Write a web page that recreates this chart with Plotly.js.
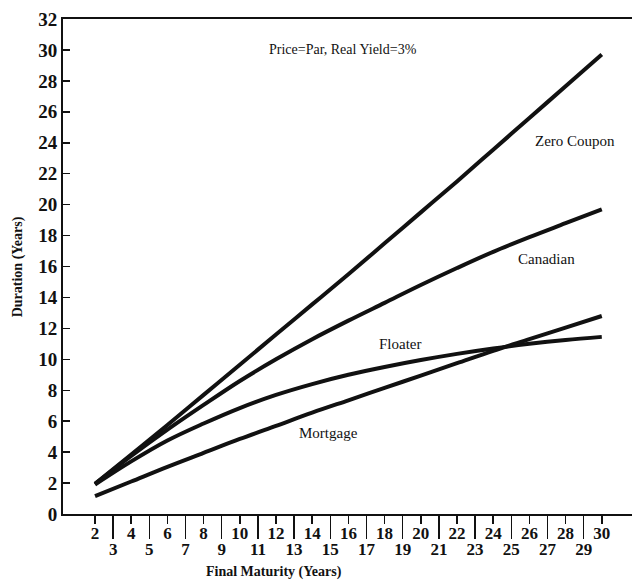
<!DOCTYPE html>
<html>
<head>
<meta charset="utf-8">
<script src="https://cdn.plot.ly/plotly-3.0.1.min.js"></script>
<style>html,body{margin:0;padding:0;background:#fff;}#chart{width:634px;height:586px;}</style>
</head>
<body>
<div id="chart"></div>
<script>
// Final maturity (years)
const maturity = [2, 4, 6, 8, 10, 12, 14, 16, 18, 20, 22, 24, 26, 28, 30];
// Duration (years) by bond type
const zeroCoupon = [1.95, 3.85, 5.75, 7.7, 9.65, 11.6, 13.55, 15.5, 17.5, 19.5, 21.5, 23.55, 25.6, 27.65, 29.7];
const canadian   = [1.95, 3.75, 5.45, 7.05, 8.6, 10.0, 11.3, 12.5, 13.65, 14.8, 15.9, 16.95, 17.9, 18.8, 19.7];
const floater    = [1.9, 3.4, 4.75, 5.85, 6.85, 7.7, 8.4, 9.0, 9.5, 9.95, 10.35, 10.7, 11.0, 11.25, 11.45];
const mortgage   = [1.15, 2.1, 3.05, 3.95, 4.85, 5.7, 6.55, 7.35, 8.15, 8.95, 9.75, 10.55, 11.3, 12.05, 12.8];

const evenTicks = [2, 4, 6, 8, 10, 12, 14, 16, 18, 20, 22, 24, 26, 28, 30];
const oddTicks  = [3, 5, 7, 9, 11, 13, 15, 17, 19, 21, 23, 25, 27, 29];
const yTicks    = [0, 2, 4, 6, 8, 10, 12, 14, 16, 18, 20, 22, 24, 26, 28, 30, 32];

const seriesNames = ['Zero Coupon', 'Canadian', 'Floater', 'Mortgage'];
const seriesData = [zeroCoupon, canadian, floater, mortgage];
// label positions (data coordinates)
const labelX = [28.5, 26.97, 18.9, 14.9];
const labelY = [24.1, 16.5, 11.0, 5.24];

const ink = '#111111';
const serif = 'Liberation Serif, Times New Roman, serif';

const traces = seriesData.map((d, i) => ({
  x: maturity, y: d, type: 'scatter', mode: 'lines', name: seriesNames[i],
  line: {color: ink, width: 4, shape: 'spline', smoothing: 1.0},
  xaxis: 'x', yaxis: 'y', showlegend: false, hoverinfo: 'skip'
}));
// invisible trace to activate the odd-tick axis
traces.push({x: [oddTicks[0]], y: [0], xaxis: 'x2', yaxis: 'y', mode: 'markers',
  marker: {opacity: 0}, showlegend: false, hoverinfo: 'skip'});

const annotations = seriesNames.map((n, i) => ({
  x: labelX[i], y: labelY[i], xref: 'x', yref: 'y', text: n, showarrow: false,
  font: {family: serif, size: 15, color: ink}
}));
annotations.push({x: 15.7, y: 30.0, xref: 'x', yref: 'y', text: 'Price=Par, Real Yield=3%',
  showarrow: false, font: {family: serif, size: 14, color: ink}});
annotations.push({x: 0.37, y: -0.117, xref: 'paper', yref: 'paper', yanchor: 'middle',
  text: '<b>Final Maturity (Years)</b>', showarrow: false,
  font: {family: serif, size: 14, color: ink}});
annotations.push({x: -0.097, y: 0.5, xref: 'paper', yref: 'paper', textangle: -90,
  text: '<b>Duration (Years)</b>', showarrow: false,
  font: {family: serif, size: 14, color: ink}});

const xr = [0.23, 31.67];
const layout = {
  width: 634, height: 586,
  margin: {l: 63, r: 2, t: 19, b: 72},
  paper_bgcolor: '#ffffff', plot_bgcolor: '#ffffff',
  showlegend: false,
  xaxis: {
    range: xr, tickmode: 'array', tickvals: evenTicks, ticktext: evenTicks.map(String),
    ticks: 'outside', ticklen: 8, tickwidth: 1.5, tickcolor: ink,
    showline: true, linecolor: ink, linewidth: 2, mirror: true,
    showgrid: false, zeroline: false,
    tickfont: {family: serif, size: 17, color: ink, weight: 'bold'}, ticklabelstandoff: -5
  },
  xaxis2: {
    range: xr, overlaying: 'x', anchor: 'y', side: 'bottom',
    tickmode: 'array', tickvals: oddTicks, ticktext: oddTicks.map(String),
    ticks: 'outside', ticklen: 24, tickwidth: 1.5, tickcolor: ink,
    showline: false, showgrid: false, zeroline: false,
    tickfont: {family: serif, size: 17, color: ink, weight: 'bold'}, ticklabelstandoff: -4
  },
  yaxis: {
    range: [0, 32], tickmode: 'array', tickvals: yTicks, ticktext: yTicks.map(String),
    ticks: 'inside', ticklen: 7, tickwidth: 1.5, tickcolor: ink,
    showline: true, linecolor: ink, linewidth: 2, mirror: false,
    showgrid: false, zeroline: false,
    tickfont: {family: serif, size: 19, color: ink, weight: 'bold'}
  },
  annotations: annotations
};
Plotly.newPlot('chart', traces, layout, {staticPlot: true, displayModeBar: false});
</script>
</body>
</html>
